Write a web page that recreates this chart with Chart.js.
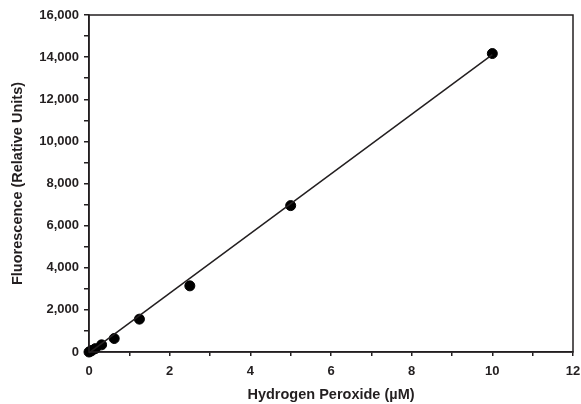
<!DOCTYPE html>
<html lang="en">
<head>
  <meta charset="UTF-8" />
  <title>Hydrogen Peroxide Standard Curve</title>
  <script src="https://cdn.jsdelivr.net/npm/chart.js"></script>
  <style>
    html, body { margin: 0; padding: 0; background: #fff; }
    #wrap { width: 581px; height: 404px; }
  </style>
</head>
<body>
  <div id="wrap"><canvas id="curveChart" width="581" height="404"></canvas></div>

  <script>
    // standard curve data
    const concentrations = [0, 0.039, 0.078, 0.156, 0.3125, 0.625, 1.25, 2.5, 5, 10];
    const fluorescence = [0, 40, 80, 160, 340, 640, 1560, 3140, 6950, 14170];
    // fitted line end points
    const fitX = [0, 10];
    const fitY = [-40, 14120];
    const xTicks = [0, 2, 4, 6, 8, 10, 12];
    const yTicks = [0, 2000, 4000, 6000, 8000, 10000, 12000, 14000, 16000];

    const ink = '#231f20';
    const fontFamily = '"Liberation Sans", Arial, Helvetica, sans-serif';

    // box round the plot area
    const frame = {
      id: 'frame',
      afterDraw(chart) {
        const { ctx, chartArea: a } = chart;
        ctx.save();
        ctx.strokeStyle = ink;
        ctx.lineWidth = 1.5;
        ctx.strokeRect(a.left, a.top, a.right - a.left, a.bottom - a.top);
        ctx.restore();
      }
    };

    new Chart(document.getElementById('curveChart'), {
      type: 'scatter',
      data: {
        datasets: [
          {
            label: 'Fit',
            type: 'line',
            data: fitX.map((x, i) => ({ x, y: fitY[i] })),
            borderColor: ink,
            borderWidth: 1.5,
            pointRadius: 0,
            fill: false,
            clip: false
          },
          {
            label: 'Standards',
            data: concentrations.map((x, i) => ({ x, y: fluorescence[i] })),
            backgroundColor: '#000',
            borderColor: '#000',
            pointRadius: 5,
            clip: false
          }
        ]
      },
      options: {
        responsive: false,
        animation: false,
        layout: { padding: { top: 15, right: 8, left: 9, bottom: 0 } },
        plugins: { legend: { display: false }, tooltip: { enabled: false } },
        scales: {
          x: {
            type: 'linear',
            min: 0, max: 12,
            afterFit(s) { s.height = 52; s.paddingLeft = 0; s.paddingRight = 0; },
            afterBuildTicks(s) {
              const t = [];
              for (let v = 0; v <= 12; v += 1) t.push({ value: v });
              s.ticks = t;
            },
            ticks: {
              color: ink,
              padding: 8,
              maxRotation: 0,
              autoSkip: false,
              font: { family: fontFamily, size: 13, weight: 'bold' },
              callback: v => xTicks.includes(v) ? String(v) : ''
            },
            grid: { drawOnChartArea: false, tickLength: 4, tickColor: ink, lineWidth: 1.5 },
            border: { color: ink, width: 1.5 },
            title: {
              display: true,
              text: 'Hydrogen Peroxide (µM)',
              color: ink,
              padding: { top: 1, bottom: 0 },
              font: { family: fontFamily, size: 14.5, weight: 'bold' }
            }
          },
          y: {
            type: 'linear',
            min: 0, max: 16000,
            afterFit(s) { s.width = 80; s.paddingTop = 0; s.paddingBottom = 0; },
            afterBuildTicks(s) {
              const t = [];
              for (let v = 0; v <= 16000; v += 1000) t.push({ value: v });
              s.ticks = t;
            },
            ticks: {
              color: ink,
              padding: 5,
              autoSkip: false,
              font: { family: fontFamily, size: 13, weight: 'bold' },
              callback: v => yTicks.includes(v) ? v.toLocaleString('en-US') : ''
            },
            grid: { drawOnChartArea: false, tickLength: 5, tickColor: ink, lineWidth: 1.5 },
            border: { color: ink, width: 1.5 },
            title: {
              display: true,
              text: 'Fluorescence (Relative Units)',
              color: ink,
              padding: { top: 0, bottom: 4 },
              font: { family: fontFamily, size: 14.5, weight: 'bold' }
            }
          }
        }
      },
      plugins: [frame]
    });
  </script>
</body>
</html>
